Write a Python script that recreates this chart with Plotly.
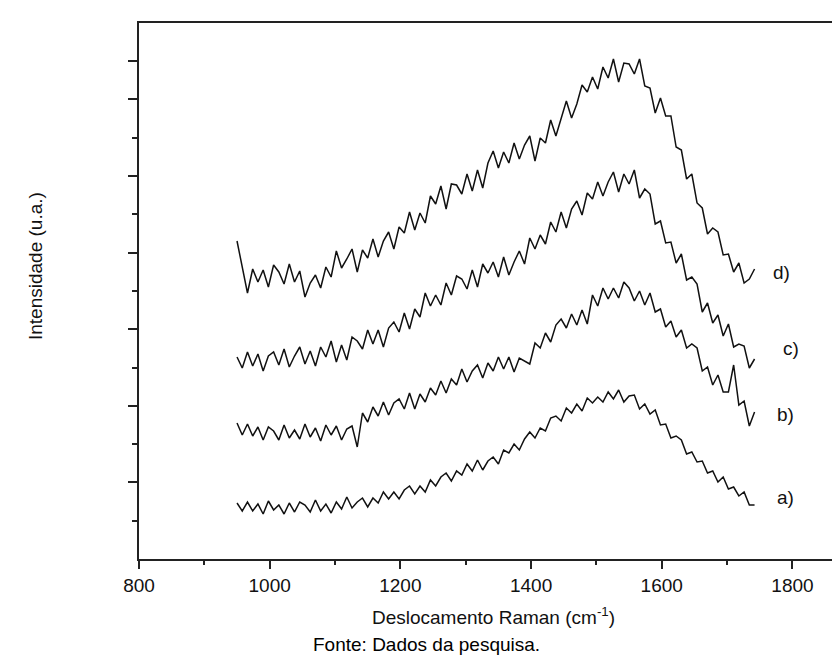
import plotly.graph_objects as go

# Raman shift grid (cm^-1)
raman_shift = list(range(950, 1743, 8))

# Intensities (arbitrary units), curves offset as in the figure
spec_a = [56, 48, 57, 48, 55, 45, 58, 49, 54, 45, 56, 47, 57, 54, 47, 59, 48, 55, 46, 57,
          50, 62, 51, 57, 61, 52, 61, 56, 67, 60, 67, 60, 69, 73, 65, 73, 67, 79, 73, 82,
          86, 78, 88, 84, 95, 88, 99, 89, 98, 102, 95, 109, 106, 115, 109, 120, 127, 121, 131, 128,
          141, 143, 138, 151, 146, 155, 148, 161, 156, 162, 157, 167, 160, 169, 157, 163, 164, 150, 155, 145,
          149, 134, 135, 121, 123, 119, 105, 107, 97, 98, 86, 88, 77, 82, 70, 72, 63, 67, 54, 54]

spec_b = [136, 124, 135, 123, 132, 119, 132, 128, 119, 134, 121, 129, 120, 135, 122, 131, 118, 134, 124, 133,
          119, 130, 133, 112, 146, 137, 152, 143, 157, 144, 156, 160, 150, 166, 150, 165, 157, 171, 164, 178,
          166, 180, 174, 190, 177, 188, 194, 181, 196, 188, 202, 190, 202, 187, 201, 198, 195, 216, 211, 226,
          217, 234, 240, 231, 245, 234, 249, 235, 264, 253, 271, 260, 271, 261, 277, 271, 258, 268, 254, 266,
          247, 250, 232, 238, 222, 229, 211, 215, 211, 188, 192, 174, 184, 167, 167, 194, 154, 158, 133, 147]

spec_c = [202, 191, 207, 193, 205, 188, 203, 207, 194, 210, 192, 203, 212, 195, 208, 193, 212, 202, 218, 197,
          214, 199, 222, 218, 210, 229, 215, 229, 212, 231, 237, 227, 246, 230, 250, 242, 266, 253, 264, 254,
          276, 264, 283, 280, 270, 289, 272, 295, 286, 297, 282, 302, 284, 297, 308, 295, 321, 310, 324, 315,
          337, 327, 347, 331, 350, 358, 344, 366, 360, 377, 363, 377, 387, 367, 385, 375, 389, 361, 370, 365,
          335, 338, 316, 317, 296, 305, 279, 282, 275, 247, 256, 236, 244, 223, 235, 212, 215, 213, 191, 200]

spec_d = [318, 290, 266, 290, 277, 289, 272, 294, 287, 275, 295, 277, 288, 262, 276, 284, 271, 292, 282, 308,
          291, 300, 310, 287, 309, 301, 320, 302, 318, 327, 310, 332, 326, 347, 329, 346, 336, 363, 355, 373,
          350, 375, 374, 365, 385, 368, 389, 371, 396, 408, 391, 407, 396, 416, 400, 414, 423, 398, 421, 416,
          439, 423, 441, 458, 441, 455, 474, 467, 482, 470, 492, 481, 500, 477, 496, 495, 485, 500, 473, 471,
          446, 461, 443, 443, 412, 409, 380, 385, 356, 351, 325, 331, 327, 304, 305, 287, 296, 276, 280, 290]

series = [("a)", spec_a), ("b)", spec_b), ("c)", spec_c), ("d)", spec_d)]
label_pos = {"a)": (1789, 62), "b)": (1789, 145), "c)": (1798, 211), "d)": (1783, 287)}

x_ticks = [800, 1000, 1200, 1400, 1600, 1800]
x_minor = [900, 1100, 1300, 1500, 1700]
y_step = 38.3
y_major = [y_step * k for k in (2, 4, 6, 8, 10, 12, 13)]
y_minor = [y_step * k for k in (1, 3, 5, 7, 9, 11)]

FONT = "Liberation Sans, Arial, sans-serif"
INK = "#111111"

fig = go.Figure()
for name, vals in series:
    fig.add_trace(go.Scatter(x=raman_shift, y=vals, mode="lines", name=name,
                             line=dict(color=INK, width=1.5), showlegend=False))

annotations = []
for name, (lx, ly) in label_pos.items():
    annotations.append(dict(x=lx, y=ly, xref="x", yref="y", text=name, showarrow=False,
                            font=dict(family=FONT, size=19, color=INK),
                            xanchor="center", yanchor="middle"))
annotations.append(dict(x=(27 - 131) / 709, y=(551 - 258) / 536, xref="paper", yref="paper",
                        text="Intensidade (u.a.)", showarrow=False, textangle=-90,
                        xanchor="center", yanchor="middle",
                        font=dict(family=FONT, size=19, color=INK)))
annotations.append(dict(x=0.406, y=(551 - 636) / 536, xref="paper", yref="paper",
                        text="Fonte: Dados da pesquisa.", showarrow=False,
                        font=dict(family=FONT, size=19, color="#000000"),
                        xanchor="center", yanchor="middle"))

fig.update_layout(
    width=840, height=660,
    margin=dict(l=131, r=0, t=15, b=109),
    paper_bgcolor="white", plot_bgcolor="white",
    font=dict(family=FONT, size=19, color=INK),
    annotations=annotations,
    xaxis=dict(range=[800, 1885], tickvals=x_ticks, ticks="outside", ticklen=8, tickwidth=1.5,
               tickcolor="#222222", showline=True, linecolor="#222222", linewidth=1.5, mirror=True,
               showgrid=False, zeroline=False,
               minor=dict(tickvals=x_minor, ticks="outside", ticklen=4,
                          tickwidth=1.5, tickcolor="#222222"),
               title=dict(text="Deslocamento Raman (cm<sup>-1</sup>)", standoff=16,
                          font=dict(family=FONT, size=19))),
    yaxis=dict(range=[0, 536], tickvals=y_major, showticklabels=False, ticks="outside", ticklen=9,
               tickwidth=1.5, tickcolor="#222222", showline=True, linecolor="#222222", linewidth=1.5,
               showgrid=False, zeroline=False,
               minor=dict(tickvals=y_minor, ticks="outside", ticklen=5, tickwidth=1.5,
                          tickcolor="#222222")),
)

fig.write_html("out.html")
